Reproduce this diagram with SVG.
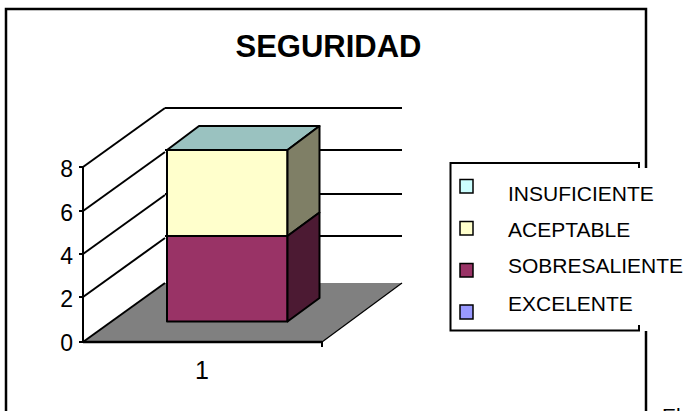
<svg xmlns="http://www.w3.org/2000/svg" width="686" height="411" viewBox="0 0 686 411">
<style>
text{font-family:"Liberation Sans",Arial,sans-serif;fill:#000}
.ax{font-size:23px;text-anchor:end}
.lg{font-size:21px}
.ln{stroke:#000;stroke-width:2;fill:none}
.sq{stroke:#000;stroke-width:1.5}
.ed{stroke:#000;stroke-width:2;stroke-linejoin:round}
</style>
<rect width="686" height="411" fill="#fff"/>
<g id="frame" fill="none" stroke="#000" stroke-width="2.5">
<polyline points="6,411 6,9 646,9 646,168"/>
<line x1="646" y1="331" x2="646" y2="411"/>
</g>
<text id="title" x="328.5" y="57" text-anchor="middle" style="font-size:31px;font-weight:bold">SEGURIDAD</text>
<g id="walls">
<polygon points="83,342 165,283 402,283 322,342" fill="#808080" stroke="none"/>
<line class="ln" x1="83" y1="342" x2="165" y2="283"/>
<line class="ln" x1="322" y1="342" x2="402" y2="283" style="stroke-width:1.2"/>
<line class="ln" x1="83" y1="167" x2="83" y2="342"/>
<line class="ln" x1="83" y1="167" x2="165" y2="108"/>
<line class="ln" x1="83" y1="211" x2="165" y2="152"/>
<line class="ln" x1="83" y1="254" x2="165" y2="195"/>
<line class="ln" x1="83" y1="297" x2="165" y2="238"/>
<line class="ln" x1="165" y1="108" x2="402" y2="108"/>
<line class="ln" x1="165" y1="150" x2="402" y2="150"/>
<line class="ln" x1="165" y1="194" x2="402" y2="194"/>
<line class="ln" x1="165" y1="236" x2="402" y2="236"/>
<line x1="83" y1="342" x2="322" y2="342" stroke="#000" stroke-width="2.5"/>
<line class="ln" x1="322" y1="342" x2="322" y2="347"/>
<line class="ln" x1="79" y1="167" x2="83" y2="167"/>
<line class="ln" x1="79" y1="211" x2="83" y2="211"/>
<line class="ln" x1="79" y1="254" x2="83" y2="254"/>
<line class="ln" x1="79" y1="297" x2="83" y2="297"/>
<line class="ln" x1="79" y1="342" x2="83" y2="342"/>
</g>
<g id="axis-labels">
<text class="ax" x="73" y="177">8</text>
<text class="ax" x="73" y="221">6</text>
<text class="ax" x="73" y="264">4</text>
<text class="ax" x="73" y="307">2</text>
<text class="ax" x="73" y="351">0</text>
<text x="202" y="379" text-anchor="middle" style="font-size:25px">1</text>
</g>
<g id="bar">
<rect class="ed" x="167" y="236" width="120.5" height="85.5" fill="#993366"/>
<rect class="ed" x="167" y="150" width="120.5" height="86" fill="#FFFFCC"/>
<polygon class="ed" points="167,150 199,126 319.5,126 287.5,150" fill="#9AC2C0"/>
<polygon class="ed" points="287.5,150 319.5,126 319.5,212.5 287.5,236" fill="#7F7F66"/>
<polygon class="ed" points="287.5,236 319.5,212.5 319.5,298 287.5,321.5" fill="#4C1A33"/>
</g>
<g id="legend">
<polyline points="639,168 639,163 450.5,163 450.5,330.5 639,330.5 639,325" fill="none" stroke="#000" stroke-width="2"/>
<rect class="sq" x="460" y="179.5" width="13" height="13.5" fill="#CCFFFF"/>
<rect class="sq" x="460" y="221.5" width="13" height="13.5" fill="#FFFFCC"/>
<rect class="sq" x="460" y="263.5" width="13" height="13.5" fill="#993366"/>
<rect class="sq" x="460" y="305" width="13" height="14" fill="#9999FF"/>
<text class="lg" x="508" y="201">INSUFICIENTE</text>
<text class="lg" x="508" y="237">ACEPTABLE</text>
<text class="lg" x="508" y="273">SOBRESALIENTE</text>
<text class="lg" x="508" y="311">EXCELENTE</text>
</g>
<text id="body-text" x="662" y="423" style="font-size:21px">El</text>
</svg>
